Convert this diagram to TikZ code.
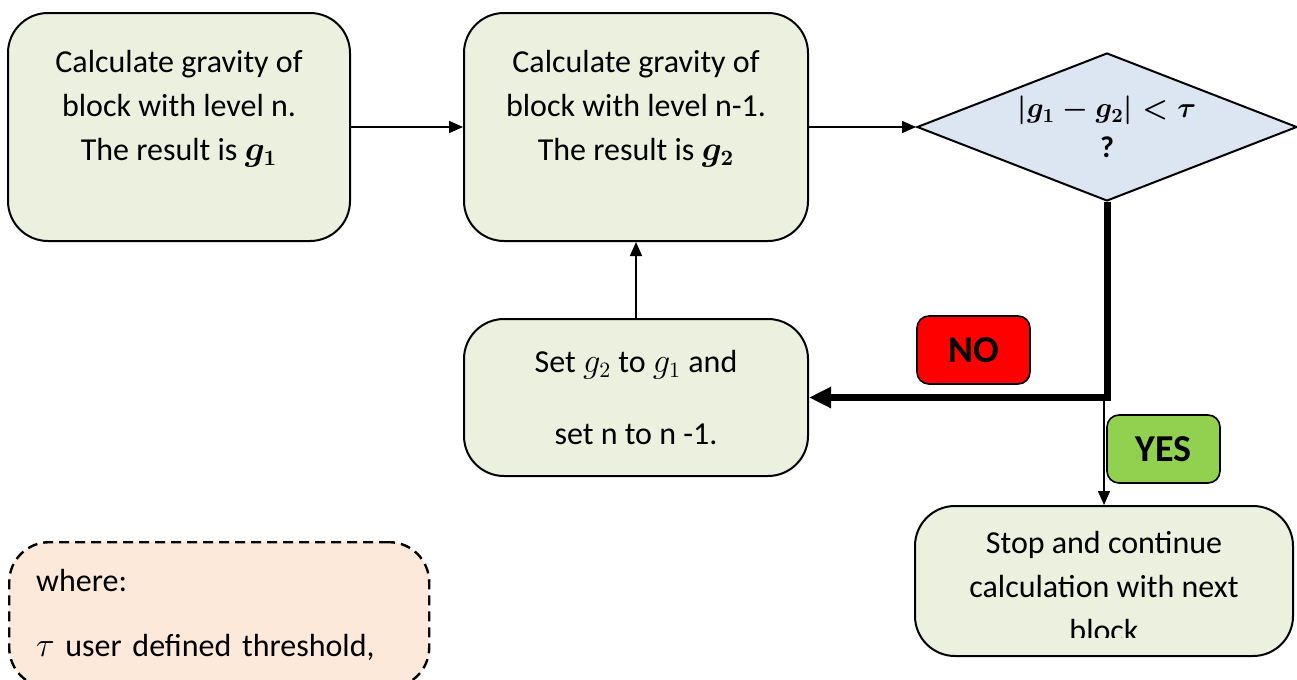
\documentclass[tikz,border=0pt]{standalone}
\usepackage{amsmath}
\usepackage{fontspec}
\setmainfont{Carlito}
\usetikzlibrary{positioning,arrows.meta,calc,shapes.geometric}
\definecolor{boxgreen}{HTML}{EBF1DE}
\definecolor{diablue}{HTML}{DCE6F2}
\definecolor{notepeach}{HTML}{FDE9D9}
\definecolor{nored}{HTML}{FF0000}
\definecolor{yesgreen}{HTML}{92D050}
\tikzset{
  fig/.style={font=\fontsize{16}{22}\selectfont},
  stepbox/.style={draw,line width=1pt,rounded corners=20pt,fill=boxgreen,align=center,
                  inner sep=0pt},
  decision/.style={diamond,draw,line width=1pt,fill=diablue,aspect=2.57,align=center,
                   minimum width=190pt,minimum height=74pt,inner sep=0pt,
                   font=\fontsize{14}{18}\selectfont},
  notebox/.style={draw,line width=1.2pt,dash pattern=on 5pt off 3pt,rounded corners=20pt,
                  fill=notepeach,align=left,anchor=north west,inner xsep=13.5pt,
                  inner ysep=13.5pt,text width=183pt},
  tag/.style={draw,line width=0.8pt,rounded corners=6pt,minimum width=56.5pt,
              minimum height=34pt,inner sep=0pt,font=\fontsize{19}{20}\selectfont\bfseries},
  ln/.style={-{Triangle[length=7pt,width=6pt]},line width=0.75pt},
  lnthick/.style={-{Triangle[length=11pt,width=10pt]},line width=3.5pt},
}

\begin{document}
\begin{tikzpicture}[fig,x=0.5pt,y=-0.5pt]
\useasboundingbox (0,0) rectangle (1297,680);
\clip (0,0) rectangle (1297,680);

\node[stepbox,minimum width=171pt,minimum height=114pt] (gnew) at (179,127)
  {Calculate gravity of\\block with level n.\\The result is $\boldsymbol{g_1}$\\ \mbox{}};
\node[stepbox,minimum width=172pt,minimum height=114pt,right=56pt of gnew] (gold)
  {Calculate gravity of\\block with level n-1.\\The result is $\boldsymbol{g_2}$\\ \mbox{}};
\node[decision,right=53.5pt of gold] (test)
  {$\boldsymbol{|g_1-g_2|<\tau}$\\[2pt]{\fontsize{15}{18}\selectfont\textbf{?}}};
\node[stepbox,minimum width=172pt,minimum height=78.5pt,below=38pt of gold] (swap)
  {Set $g_2$ to $g_1$ and\\[14pt]set n to n -1.};
\node[stepbox,minimum width=189pt,minimum height=75pt] (stop) at (1104,581)
  {\rule{0pt}{17pt}Stop and continue\\calculation with next\\block};
% last line is cut off by the box
\fill[boxgreen] (1040,638) rectangle (1170,652);

\node[notebox] (where) at (8,541) {where:\\[10.5pt]$\tau$ user defined threshold,};

\node[tag,fill=nored] (no) at (973.5,350) {NO};
\node[tag,fill=yesgreen] (yes) at (1163.5,449) {YES};

\draw[ln] (gnew) -- (gold);
\draw[ln] (gold) -- (test);
\draw[ln] (swap) -- (gold);
\draw[lnthick] (test.south) |- (swap.east);
\coordinate (split) at ($(test.south |- swap.east)+(-3,0)$);
\draw[ln] (split) -- (split |- stop.north);

\end{tikzpicture}
\end{document}
